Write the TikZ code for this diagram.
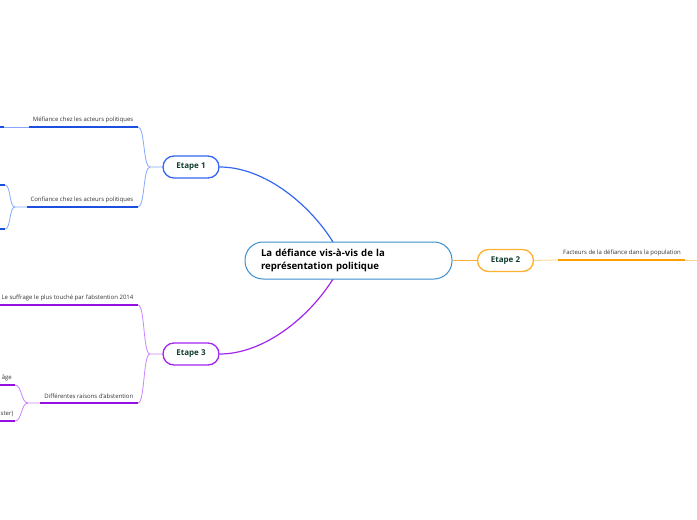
\documentclass[tikz,border=0pt]{standalone}
\usepackage{fontspec}
\setmainfont{Open Sans}
\definecolor{cbord}{HTML}{3A8FD0}
\definecolor{bmain}{HTML}{3566F5}
\definecolor{bthick}{HTML}{1A4FE0}
\definecolor{bthin}{HTML}{86A8FF}
\definecolor{pmain}{HTML}{A224F0}
\definecolor{pthick}{HTML}{9410E0}
\definecolor{pthin}{HTML}{C985FF}
\definecolor{omain}{HTML}{FFB030}
\definecolor{othick}{HTML}{FF9E00}
\definecolor{othin}{HTML}{FFD48A}
\definecolor{etxt}{HTML}{103D2E}
\definecolor{ltxt}{HTML}{333333}
\tikzset{
  central/.style={draw=cbord, line width=1pt, rounded corners=18pt, minimum width=207pt, minimum height=37pt, text width=175pt, align=left, font=\fontsize{9.6}{13}\selectfont\bfseries, inner sep=0pt, fill=white},
  etape/.style={draw=#1, line width=1.3pt, rounded corners=11pt, minimum width=56pt, minimum height=22pt, font=\fontsize{8}{9}\selectfont\bfseries, text=etxt, inner sep=0pt, fill=white},
  lbl/.style={font=\fontsize{6}{7}\selectfont, text=ltxt, inner sep=0pt},
  thick line/.style={line width=1.4pt, draw=#1},
  thin line/.style={line width=0.8pt, draw=#1},
}
\begin{document}
\begin{tikzpicture}[x=1pt,y=-1pt]
\useasboundingbox (0,0) rectangle (697,520);
\coordinate (ctop) at (333,242);
\coordinate (cbot) at (333,279);
\node[etape=bmain] (e1) at (191,167) {Etape 1};
\node[etape=pmain] (e3) at (191,354) {Etape 3};
\node[etape=omain] (e2) at (505.5,260.5) {Etape 2};
\draw[line width=1.2pt, bmain] (e1.east) .. controls (265,167) and (310,205) .. (ctop);
\draw[line width=1.2pt, pmain] (e3.east) .. controls (265,354) and (310,316) .. (cbot);
\node[central] (c) at (348.5,260.5) {La défiance vis-à-vis de la\\représentation politique};
\draw[line width=1.2pt, omain] (c.east) -- (e2.west);

% ---- Etape 1 branch
\coordinate (b1) at (150,167);
\coordinate (m1) at (138,127);
\coordinate (m1l) at (29,127);
\coordinate (m1s) at (4,127);
\coordinate (m1e) at (-5,127);
\coordinate (k1) at (138,207);
\coordinate (k1l) at (27,207);
\coordinate (k1b) at (15,207);
\coordinate (k1u) at (5,185);
\coordinate (k1d) at (5,229);
\draw[thin line=bthin] (e1.west) -- (b1) .. controls (143,167) and (145,127) .. (m1);
\draw[thin line=bthin] (b1) .. controls (143,167) and (145,207) .. (k1);
\draw[thick line=bthick] (m1l) -- (m1);
\draw[thin line=bthin] (m1s) -- (m1l);
\draw[thick line=bthick] (m1e) -- (m1s);
\node[lbl, anchor=east] (tm1) at (133.5,119.5) {Méfiance chez les acteurs politiques};
\draw[thick line=bthick] (k1l) -- (k1);
\node[lbl, anchor=east] (tk1) at (133.5,199.5) {Confiance chez les acteurs politiques};
\draw[thin line=bthin] (k1l) -- (k1b) .. controls (9,207) and (11,185) .. (k1u);
\draw[thin line=bthin] (k1b) .. controls (9,207) and (11,229) .. (k1d);
\draw[thick line=bthick] (-5,185) -- (k1u);
\draw[thick line=bthick] (-5,229) -- (k1d);

% ---- Etape 3 branch
\coordinate (b3) at (150,354);
\coordinate (s3) at (138,305);
\coordinate (s3l) at (-5,305);
\coordinate (d3) at (138,403);
\coordinate (d3l) at (40,403);
\coordinate (d3b) at (28,403);
\coordinate (d3u) at (15,385);
\coordinate (d3d) at (15,421);
\draw[thin line=pthin] (e3.west) -- (b3) .. controls (143,354) and (145,305) .. (s3);
\draw[thin line=pthin] (b3) .. controls (143,354) and (145,403) .. (d3);
\draw[thick line=pthick] (s3l) -- (s3);
\node[lbl, anchor=east] (ts3) at (133.5,298) {Le suffrage le plus touché par l'abstention 2014};
\draw[thick line=pthick] (d3l) -- (d3);
\node[lbl, anchor=east] (td3) at (133.5,396) {Différentes raisons d'abstention};
\draw[thin line=pthin] (d3l) -- (d3b) .. controls (21,403) and (22,385) .. (d3u);
\draw[thin line=pthin] (d3b) .. controls (21,403) and (22,421) .. (d3d);
\draw[thick line=pthick] (-5,385) -- (d3u);
\draw[thick line=pthick] (-5,421) -- (d3d);
\node[lbl, anchor=east] (ta) at (12,378) {âge};
\node[lbl, anchor=east] (tb) at (13.5,414) {ster)};

% ---- Etape 2 branch
\coordinate (f2a) at (558,260);
\coordinate (f2b) at (685,260);
\coordinate (f2c) at (700,260);
\draw[thin line=othin] (e2.east) -- (f2a);
\draw[thick line=othick] (f2a) -- (f2b);
\draw[thin line=othin] (f2b) -- (f2c);
\node[lbl, anchor=west] (tf2) at (563,253) {Facteurs de la défiance dans la population};
\end{tikzpicture}
\end{document}
